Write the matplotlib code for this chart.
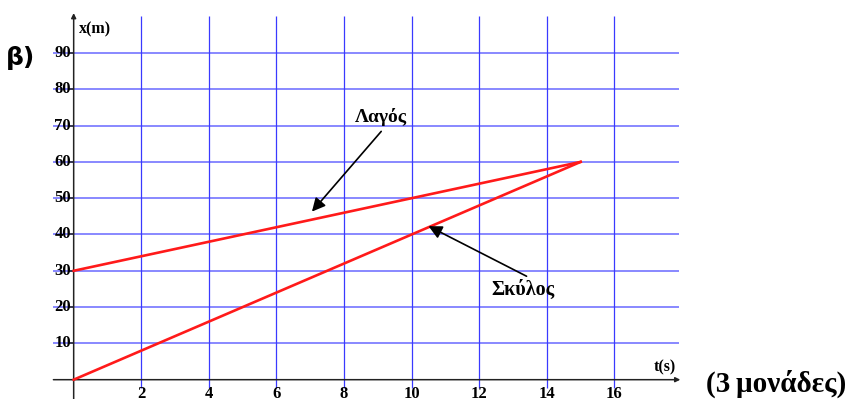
import matplotlib.pyplot as plt

# data
t_lagos = [0, 15]
x_lagos = [30, 60]
t_skylos = [0, 15]
x_skylos = [0, 60]
t_ticks = [2, 4, 6, 8, 10, 12, 14, 16]
x_ticks = [10, 20, 30, 40, 50, 60, 70, 80, 90]

serif = 'Liberation Serif'

fig = plt.figure(figsize=(8.52, 3.99), dpi=100)
ax = fig.add_axes([0, 0, 1, 1])
ax.set_xlim(-2.18, 23.03)
ax.set_ylim(-5.32, 104.6)
ax.axis('off')

# grid
grid_col = '#3a3aff'
ax.hlines(x_ticks, -0.6, 17.9, color=grid_col, lw=1.2, alpha=0.7, zorder=1)
ax.vlines(t_ticks, -2.3, 100.2, color=grid_col, lw=0.9, zorder=1)

# axes with arrows
ax.annotate('', xy=(17.95, 0), xytext=(-0.6, 0),
            arrowprops=dict(arrowstyle='-|>', color='#222222', lw=1.1,
                            mutation_scale=7, shrinkA=0, shrinkB=0))
ax.annotate('', xy=(0, 101.0), xytext=(0, -5.4),
            arrowprops=dict(arrowstyle='-|>', color='#222222', lw=1.1,
                            mutation_scale=7, shrinkA=0, shrinkB=0))
ax.hlines(x_ticks, -0.15, 0, color='#222222', lw=1.1, zorder=2)

for t in t_ticks:
    ax.text(t, -4.95, str(t), ha='center', va='baseline', family=serif,
            fontweight='bold', fontsize=12)
for x in x_ticks:
    ax.text(-0.08, x, str(x), ha='right', va='center', family=serif,
            fontweight='bold', fontsize=12)

ax.text(0.17, 96.5, 'x(m)', ha='left', va='center', family=serif,
        fontweight='bold', fontsize=11.5)
ax.text(17.5, 3.4, 't(s)', ha='center', va='center', family=serif,
        fontweight='bold', fontsize=11.5)

# motion lines
ax.plot(t_lagos, x_lagos, color='#ff1a1a', lw=1.9, zorder=3)
ax.plot(t_skylos, x_skylos, color='#ff1a1a', lw=1.9, zorder=3)

# labels with arrows
ax.annotate('', xy=(7.05, 46.3), xytext=(9.1, 68.4),
            arrowprops=dict(arrowstyle='-|>', color='black', lw=1.2,
                            mutation_scale=20, shrinkA=0, shrinkB=0))
ax.text(9.1, 72.3, 'Λαγός', ha='center', va='center', family=serif,
        fontweight='bold', fontsize=14)
ax.annotate('', xy=(10.5, 42.3), xytext=(13.4, 28.5),
            arrowprops=dict(arrowstyle='-|>', color='black', lw=1.2,
                            mutation_scale=20, shrinkA=0, shrinkB=0))
ax.text(13.3, 24.6, 'Σκύλος', ha='center', va='center', family=serif,
        fontweight='bold', fontsize=14.5)

fig.text(21 / 852, 1 - 58 / 399, 'β)', ha='center', va='center',
         family='DejaVu Sans', fontweight='bold', fontsize=18)
fig.text(776 / 852, 1 - 384 / 399, '(3\u2009μονάδες)', ha='center', va='center',
         family=[serif, 'DejaVu Serif'], fontweight='bold', fontsize=21)

fig.savefig('out.png', dpi=100)
